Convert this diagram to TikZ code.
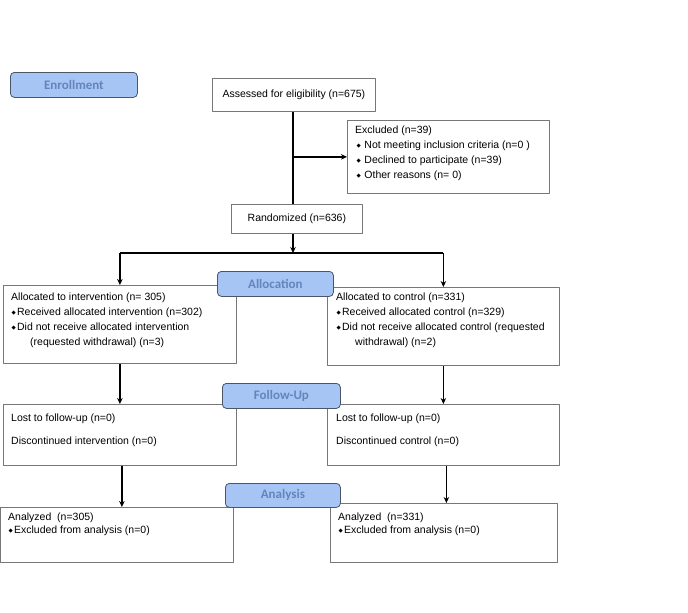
\documentclass[tikz,border=0pt]{standalone}
\usepackage{fontspec}
\setmainfont{Liberation Sans}
\newfontfamily\labelfont{Carlito}
\newfontfamily\dejavu{DejaVu Sans}
\usetikzlibrary{arrows.meta}
\definecolor{stagefill}{HTML}{A6C4F4}
\definecolor{stagetext}{HTML}{6286BC}
\definecolor{stageline}{HTML}{4A5668}
\definecolor{boxline}{HTML}{777777}
\newcommand{\dmd}{{\dejavu\fontsize{5.5}{6}\selectfont\raisebox{1.2pt}{◆}}}
\newcommand{\itm}{\hspace*{1.5pt}\dmd\hspace{3.5pt}}
\newcommand{\itmtight}{\hspace*{0.5pt}\dmd\hspace{1.2pt}}
\begin{document}
\begin{tikzpicture}[x=1pt, y=-1pt, font=\fontsize{10.5}{15}\selectfont, line join=round, >={Stealth[length=6pt,width=5.5pt]}]
	\tikzset{
		stage/.style={draw=stageline, fill=stagefill, rounded corners=4pt, line width=0.8pt, anchor=north west, inner sep=0pt,
			font=\labelfont\bfseries\fontsize{13}{13}\selectfont, text=stagetext},
		box/.style={draw=boxline, line width=0.8pt, fill=white, anchor=north west, inner sep=0pt},
		txt/.style={anchor=north west, inner sep=0pt, align=left},
		flow/.style={line width=1.6pt}
	}
	\useasboundingbox (0,0) rectangle (688,613);
	% boxes
	\node[box, minimum width=163pt, minimum height=33pt] (assess) at (212,78) {Assessed for eligibility (n=675)};
	\node[box, minimum width=202pt, minimum height=73pt] (excl) at (347,120) {};
	\node[box, minimum width=131pt, minimum height=29pt] (rand) at (231,204) {Randomized (n=636)};
	\node[box, minimum width=233pt, minimum height=78pt] (allocL) at (3,285) {};
	\node[box, minimum width=232pt, minimum height=78pt] (allocR) at (327,287) {};
	\node[box, minimum width=233pt, minimum height=61pt] (fuL) at (3,404) {};
	\node[box, minimum width=232pt, minimum height=61pt] (fuR) at (327,404) {};
	\node[box, minimum width=233pt, minimum height=55pt] (anL) at (0,507) {};
	\node[box, minimum width=227pt, minimum height=59pt] (anR) at (330,503) {};
	% texts
	\node[txt] (exclT) at (355,126) {Excluded (n=39)\\
		\itm Not meeting inclusion criteria (n=0 )\\
		\itm Declined to participate (n=39)\\
		\itm Other reasons (n= 0)};
	\node[txt] (allocLT) at (11,293) {Allocated to intervention (n= 305)\\
		\itmtight Received allocated intervention (n=302)\\
		\itmtight Did not receive allocated intervention\\
		\hspace*{19pt}(requested withdrawal) (n=3)};
	\node[txt] (allocRT) at (336,293) {Allocated to control (n=331)\\
		\itmtight Received allocated control (n=329)\\
		\itmtight Did not receive allocated control (requested\\
		\hspace*{19pt}withdrawal) (n=2)};
	\node[txt] (fuLT) at (11,414) {Lost to follow-up (n=0)\\[8pt]Discontinued intervention (n=0)};
	\node[txt] (fuRT) at (336,414) {Lost to follow-up (n=0)\\[8pt]Discontinued control (n=0)};
	\node[txt] (anLT) at (8,513) {Analyzed~~(n=305)\\[-2.5pt]\itmtight Excluded from analysis (n=0)};
	\node[txt] (anRT) at (338,513) {Analyzed~~(n=331)\\[-2.5pt]\itmtight Excluded from analysis (n=0)};
	% connectors
	\coordinate (trunk) at (293,253);
	\draw[flow] (trunk |- assess.south) -- (trunk |- rand.north);
	\draw[flow,->] (trunk |- excl.west) -- (excl.west);
	\draw[flow,->] (trunk |- rand.south) -- (trunk);
	\draw[flow] (allocL.north |- trunk) -- (allocR.north |- trunk);
	\draw[flow,->] (allocL.north |- trunk) -- (allocL.north);
	\draw[flow,->] (allocR.north |- trunk) -- (allocR.north);
	\draw[flow,->] (allocL.south) -- (fuL.north);
	\draw[flow,->] (allocR.south) -- (fuR.north);
	\draw[flow,->] ([xshift=2pt]fuL.south) -- ([xshift=2pt]fuL.south |- anL.north);
	\draw[flow,->] ([xshift=3pt]fuR.south) -- ([xshift=3pt]fuR.south |- anR.north);
	% stage labels
	\node[stage, minimum width=127pt, minimum height=25pt] (enrol) at (10,72) {Enrollment};
	\node[stage, minimum width=116pt, minimum height=25pt] (alloc) at (217,271) {Allocation};
	\node[stage, minimum width=118pt, minimum height=25pt] (follow) at (222,383) {Follow-Up};
	\node[stage, minimum width=115pt, minimum height=24pt] (analysis) at (225,483) {Analysis};
\end{tikzpicture}
\end{document}
